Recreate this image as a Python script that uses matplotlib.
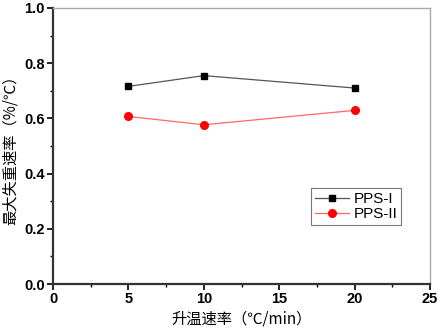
import matplotlib.pyplot as plt
from matplotlib.ticker import MultipleLocator, AutoMinorLocator

rates = [5, 10, 20]
pps_1 = [0.716, 0.755, 0.710]
pps_2 = [0.607, 0.577, 0.629]

plt.rcParams["font.family"] = ["Liberation Sans", "Noto Sans CJK SC", "DejaVu Sans"]

fig = plt.figure(figsize=(4.38, 3.31), dpi=100)
ax = fig.add_axes([53 / 438, 1 - 284 / 331, 377 / 438, 276 / 331])

ax.plot(rates, pps_1, color="#555555", lw=0.9, marker="s", ms=5,
        mfc="black", mec="black", label="PPS-I")
ax.plot(rates, pps_2, color="#ff6666", lw=0.9, marker="o", ms=5.5,
        mfc="red", mec="red", label="PPS-II")

ax.set_xlim(0, 25)
ax.set_ylim(0, 1.0)
ax.xaxis.set_major_locator(MultipleLocator(5))
ax.yaxis.set_major_locator(MultipleLocator(0.2))
ax.xaxis.set_minor_locator(AutoMinorLocator(2))
ax.yaxis.set_minor_locator(AutoMinorLocator(2))
ax.yaxis.set_major_formatter(plt.FormatStrFormatter("%.1f"))

for side in ("left", "bottom"):
    ax.spines[side].set_linewidth(1.6)
    ax.spines[side].set_color("#333333")
for side in ("top", "right"):
    ax.spines[side].set_linewidth(1.0)
    ax.spines[side].set_color("#aaaaaa")

ax.tick_params(which="major", direction="out", length=4, width=1.2,
               labelsize=10.5, pad=2)
ax.tick_params(which="minor", direction="out", length=2, width=1.0)
for lab in ax.get_xticklabels() + ax.get_yticklabels():
    lab.set_fontweight("bold")

ax.set_xlabel("升温速率（℃/min）", fontsize=11,
              family=["Noto Sans CJK SC", "DejaVu Sans"], labelpad=3)
ax.set_ylabel("最大失重速率（%/℃）", fontsize=11,
              family=["Noto Sans CJK SC", "DejaVu Sans"], labelpad=4)

leg = ax.legend(loc="upper left", bbox_to_anchor=(0.665, 0.375),
                fontsize=11, frameon=True, fancybox=False,
                handlelength=2.2, borderpad=0.25, labelspacing=0.1,
                handletextpad=0.3)
leg.get_frame().set_edgecolor("#555555")
leg.get_frame().set_linewidth(0.8)

fig.savefig("out.png", dpi=100)
